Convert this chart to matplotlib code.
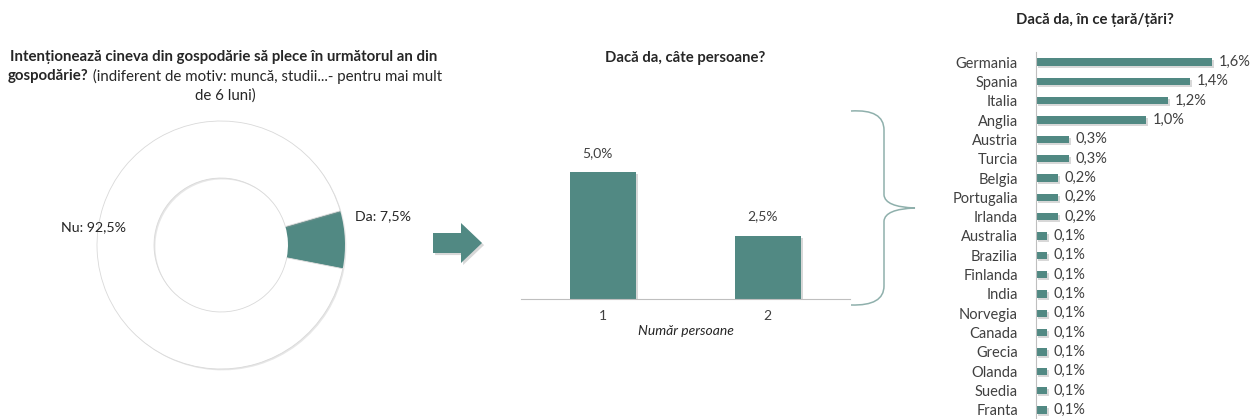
import numpy as np
import matplotlib
matplotlib.use('Agg')
import matplotlib.pyplot as plt
import matplotlib.patheffects as pe
from matplotlib.path import Path
from matplotlib.patches import PathPatch, Polygon

plt.rcParams['font.family'] = ['Lato', 'DejaVu Sans']

TEAL = '#518983'
DARK = '#262626'
GREY = '#404040'

# donut
donut_labels = ['Da', 'Nu']
donut_values = [7.5, 92.5]

# how many persons
persons = ['1', '2']
persons_values = [5.0, 2.5]

# which country
countries = ['Germania', 'Spania', 'Italia', 'Anglia', 'Austria', 'Turcia', 'Belgia',
             'Portugalia', 'Irlanda', 'Australia', 'Brazilia', 'Finlanda', 'India',
             'Norvegia', 'Canada', 'Grecia', 'Olanda', 'Suedia', 'Franta']
country_values = [1.6, 1.4, 1.2, 1.0, 0.3, 0.3, 0.2, 0.2, 0.2,
                  0.1, 0.1, 0.1, 0.1, 0.1, 0.1, 0.1, 0.1, 0.1, 0.1]

W, H = 1252, 419
fig = plt.figure(figsize=(W / 100, H / 100), dpi=100)


def rect(l, t, r, b):
    return [l / W, 1 - b / H, (r - l) / W, (b - t) / H]


def fxy(x, y):
    return (x / W, 1 - y / H)


def pct(v):
    return '{:.1f}%'.format(v).replace('.', ',')


shadow = [pe.SimplePatchShadow(offset=(1.5, -1.5), shadow_rgbFace='#808080', alpha=0.3), pe.Normal()]
soft = [pe.SimplePatchShadow(offset=(1, -1), shadow_rgbFace='#a0a0a0', alpha=0.25), pe.Normal()]

# ---- donut ----
ax1 = fig.add_axes(rect(97, 121, 345, 369))
wedges, _ = ax1.pie(donut_values, colors=[TEAL, 'white'], startangle=-11, counterclock=True,
                    radius=1, wedgeprops=dict(width=0.46, edgecolor='none'))
wedges[1].set_edgecolor('#d9d9d9')
wedges[1].set_linewidth(0.6)
for w in wedges:
    w.set_path_effects(soft)
ax1.set_xlim(-1, 1)
ax1.set_ylim(-1, 1)
ax1.set_aspect('equal')
ax1.text(1.08, 0.23, '{}: {}'.format(donut_labels[0], pct(donut_values[0])), fontsize=10.2,
         color=DARK, ha='left', va='center', clip_on=False)
ax1.text(-0.77, 0.14, '{}: {}'.format(donut_labels[1], pct(donut_values[1])), fontsize=10.2,
         color=DARK, ha='right', va='center', clip_on=False)

# donut title, bold + regular mixed
renderer = fig.canvas.get_renderer()
fig.text(*fxy(224, 57), 'Intenționează cineva din gospodărie să plece în următorul an din',
         fontsize=10.8, fontweight='bold', color=DARK, ha='center', va='center')
tb = fig.text(0, 0, 'gospodărie?', fontsize=10.8, fontweight='bold', color=DARK, va='center')
tr = fig.text(0, 0, ' (indiferent de motiv: muncă, studii...- pentru mai mult', fontsize=10.8,
              color=DARK, va='center')
wb = tb.get_window_extent(renderer).width
wr = tr.get_window_extent(renderer).width
x0 = 225 - (wb + wr) / 2
tb.set_position(fxy(x0, 76))
tr.set_position(fxy(x0 + wb, 76))
fig.text(*fxy(225, 96), 'de 6 luni)', fontsize=10.8, color=DARK, ha='center', va='center')

# arrow
arrow_px = [(433, 233), (461, 233), (461, 223), (482, 243), (461, 263), (461, 253), (433, 253)]
fig.patches.append(Polygon([fxy(x, y) for x, y in arrow_px], closed=True, facecolor=TEAL,
                           edgecolor='none', transform=fig.transFigure, path_effects=shadow))

# ---- persons bar chart ----
ax2 = fig.add_axes(rect(521, 147, 850, 299))
xpos = np.arange(1, len(persons) + 1)
bars = ax2.bar(xpos, persons_values, width=0.4, color=TEAL)
for b in bars:
    b.set_path_effects(shadow)
for x, v in zip(xpos, persons_values):
    ax2.annotate(pct(v), (x, v), xytext=(-4, 14), textcoords='offset points', ha='center',
                 va='center', fontsize=10, color=GREY)
ax2.set_xlim(0.5, 2.5)
ax2.set_ylim(0, 6)
ax2.set_xticks(xpos)
ax2.set_xticklabels(persons, fontsize=10, color=GREY)
ax2.tick_params(axis='x', length=0, pad=8)
ax2.set_yticks([])
for s in ['top', 'right', 'left']:
    ax2.spines[s].set_visible(False)
ax2.spines['bottom'].set_color('#bfbfbf')
ax2.set_xlabel('Număr persoane', fontsize=10, style='italic', color=DARK, labelpad=2)
fig.text(*fxy(685, 58), 'Dacă da, câte persoane?', fontsize=10.7, fontweight='bold',
         color=DARK, ha='center', va='center')

# brace
verts = [fxy(851, 111), fxy(884, 109), fxy(884, 130), fxy(884, 195), fxy(885, 207), fxy(915, 208),
         fxy(885, 209), fxy(884, 221), fxy(884, 286), fxy(884, 306), fxy(851, 305)]
codes = [Path.MOVETO, Path.CURVE3, Path.CURVE3, Path.LINETO, Path.CURVE3, Path.CURVE3,
         Path.CURVE3, Path.CURVE3, Path.LINETO, Path.CURVE3, Path.CURVE3]
fig.patches.append(PathPatch(Path(verts, codes), facecolor='none', edgecolor='#8fb0ac',
                             lw=1.1, transform=fig.transFigure))

# ---- countries ----
ax3 = fig.add_axes(rect(1036, 52, 1245, 419))
ypos = np.arange(len(countries))
hb = ax3.barh(ypos, country_values, height=0.38, color=TEAL)
for b in hb:
    b.set_path_effects(shadow)
for y, v in zip(ypos, country_values):
    ax3.annotate(pct(v), (v, y), xytext=(5, 0), textcoords='offset points', ha='left',
                 va='center', fontsize=10.5, color=GREY)
ax3.set_xlim(0, 1.9)
ax3.set_ylim(18.47, -0.52)
ax3.set_yticks(ypos)
ax3.set_yticklabels(countries, fontsize=10.5, color=GREY)
ax3.tick_params(axis='y', length=0, pad=13)
ax3.set_xticks([])
for s in ['top', 'right', 'bottom']:
    ax3.spines[s].set_visible(False)
ax3.spines['left'].set_color('#bfbfbf')
fig.text(*fxy(1095, 20), 'Dacă da, în ce țară/țări?', fontsize=10.7, fontweight='bold',
         color=DARK, ha='center', va='center')

fig.savefig('out.png', dpi=100)
